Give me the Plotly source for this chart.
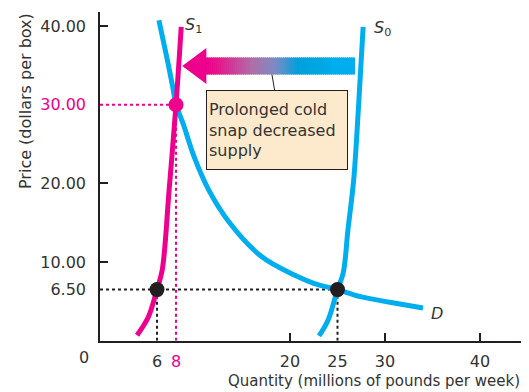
import plotly.graph_objects as go

# ---- data ----
D_q = [6.2, 6.95, 7.65, 8.0, 8.75, 9.9, 11.45, 13.7, 17.0, 20.45, 22.5, 25.0, 27.4, 30.5, 34.0]
D_p = [40.75, 36.5, 32.3, 30.0, 27.6, 23.4, 19.15, 14.9, 10.7, 8.35, 7.3, 6.5, 5.6, 4.9, 4.15]

S0_q = [23.05, 24.0, 25.0, 25.6, 26.1, 26.7, 27.2, 27.7]
S0_p = [0.6, 2.6, 6.5, 8.6, 14.1, 20.4, 29.5, 39.9]

S1_q = [3.9, 5.1, 6.0, 6.55, 7.27, 8.0, 8.55]
S1_p = [0.7, 3.05, 6.5, 9.0, 19.1, 30.0, 39.9]

eq_old = (25, 6.5)     # original equilibrium
eq_new = (8, 30)       # new equilibrium
eq_low = (6, 6.5)      # S1 at old price

x_ticks = [6, 8, 20, 25, 30, 40]
x_ticktext = ["6", "<span style='color:#ec008c'>8</span>", "20", "25", "30", "40"]
y_ticks = [6.5, 10, 20, 30, 40]
y_ticktext = ["6.50", "10.00", "20.00", "<span style='color:#ec008c'>30.00</span>", "40.00"]
x_marks = [20, 30, 40]
y_marks = [10, 20, 40]

# arrow (shift of supply)
arrow_tail, arrow_base, arrow_tip = 26.84, 11.05, 8.66
arrow_y = 34.93
shaft_half, head_half = 1.08, 2.28

BLUE = "#00aeef"
PINK = "#ec008c"
DARK = "#231f20"
TXT = "#333333"
FONT = "DejaVu Sans"

# page body has an 8px margin: figure is placed at (8, 8) in the window
W, H = 521, 384
OFF = 8


def px(X):
    return (X - OFF) / W


def py(Y):
    return 1 - (Y - OFF) / H


fig = go.Figure()

dot = dict(width=2, dash="dot")
fig.add_trace(go.Scatter(x=[0, eq_old[0]], y=[eq_old[1], eq_old[1]], mode="lines", line=dict(color=DARK, **dot)))
fig.add_trace(go.Scatter(x=[eq_low[0], eq_low[0]], y=[0, eq_low[1]], mode="lines", line=dict(color=DARK, **dot)))
fig.add_trace(go.Scatter(x=[eq_old[0], eq_old[0]], y=[0, eq_old[1]], mode="lines", line=dict(color=DARK, **dot)))
fig.add_trace(go.Scatter(x=[0, eq_new[0]], y=[eq_new[1], eq_new[1]], mode="lines", line=dict(color=PINK, **dot)))
fig.add_trace(go.Scatter(x=[eq_new[0], eq_new[0]], y=[0, eq_new[1]], mode="lines", line=dict(color=PINK, **dot)))

# curves
fig.add_trace(go.Scatter(x=D_q, y=D_p, mode="lines", line=dict(color=BLUE, width=5, shape="spline", smoothing=1)))
fig.add_trace(go.Scatter(x=S0_q, y=S0_p, mode="lines", line=dict(color=BLUE, width=5, shape="spline", smoothing=1)))
fig.add_trace(go.Scatter(x=S1_q, y=S1_p, mode="lines", line=dict(color=PINK, width=5, shape="spline", smoothing=1)))

# equilibrium points
fig.add_trace(go.Scatter(x=[eq_low[0], eq_old[0]], y=[eq_low[1], eq_old[1]], mode="markers",
                         marker=dict(color=DARK, size=15)))
fig.add_trace(go.Scatter(x=[eq_new[0]], y=[eq_new[1]], mode="markers", marker=dict(color=PINK, size=15)))

# dummy trace for tick-mark overlay axes
fig.add_trace(go.Scatter(x=[None], y=[None], xaxis="x2", yaxis="y2", mode="markers"))

# gradient arrow
stops = [(0.0, (236, 0, 140)), (0.07, (232, 16, 140)), (0.31, (176, 110, 166)),
         (0.47, (122, 140, 198)), (0.62, (0, 160, 220)), (0.8, (0, 168, 228)), (0.85, (0, 174, 239)),
         (1.0, (0, 174, 239))]


def col_at(t):
    for (t0, c0), (t1, c1) in zip(stops[:-1], stops[1:]):
        if t0 <= t <= t1:
            f = (t - t0) / (t1 - t0) if t1 > t0 else 0
            return "rgb(%d,%d,%d)" % tuple(round(a + (b - a) * f) for a, b in zip(c0, c1))
    return "rgb(0,174,239)"


shapes = []
n = 75
for i in range(n):
    x0 = arrow_base + (arrow_tail - arrow_base) * i / n
    x1 = min(arrow_base + (arrow_tail - arrow_base) * (i + 1.6) / n, arrow_tail)
    shapes.append(dict(type="rect", xref="x", yref="y", x0=x0, x1=x1,
                       y0=arrow_y - shaft_half, y1=arrow_y + shaft_half,
                       fillcolor=col_at((i + 0.5) / n), line=dict(width=0), layer="above"))
shapes.append(dict(type="path", xref="x", yref="y",
                   path="M %f,%f L %f,%f L %f,%f Z" % (arrow_tip, arrow_y, arrow_base + 0.15, arrow_y + head_half,
                                                       arrow_base + 0.15, arrow_y - head_half),
                   fillcolor=PINK, line=dict(width=0), layer="above"))
# callout connector
shapes.append(dict(type="line", xref="x", yref="y", x0=18.1, y0=arrow_y - shaft_half, x1=18.5, y1=31.0,
                   line=dict(color=DARK, width=1), layer="above"))

annotations = [
    dict(x=18.6, y=26.8, xref="x", yref="y", text="Prolonged cold<br>snap decreased<br>supply",
         showarrow=False, align="left", xanchor="center", yanchor="middle",
         bgcolor="#fdeacd", bordercolor=DARK, borderwidth=1, borderpad=2, width=136, height=74,
         font=dict(family=FONT, size=16, color=TXT)),
    dict(x=8.7, y=40.1, xref="x", yref="y", text="<i>S</i><sub>1</sub>", showarrow=False,
         xanchor="left", yanchor="middle", font=dict(family=FONT, size=16, color=TXT)),
    dict(x=28.6, y=39.7, xref="x", yref="y", text="<i>S</i><sub>0</sub>", showarrow=False,
         xanchor="left", yanchor="middle", font=dict(family=FONT, size=16, color=TXT)),
    dict(x=34.6, y=3.5, xref="x", yref="y", text="<i>D</i>", showarrow=False,
         xanchor="left", yanchor="middle", font=dict(family=FONT, size=16, color=TXT)),
    dict(x=px(84), y=py(357), xref="paper", yref="paper", text="0", showarrow=False,
         xanchor="center", yanchor="middle", font=dict(family=FONT, size=16, color=TXT)),
    dict(x=px(522), y=py(381), xref="paper", yref="paper",
         text="Quantity (millions of pounds per week)", showarrow=False,
         xanchor="right", yanchor="middle", font=dict(family=FONT, size=15, color=TXT)),
    dict(x=px(25), y=py(101), xref="paper", yref="paper",
         text="Price (dollars per box)", showarrow=False, textangle=-90,
         xanchor="center", yanchor="middle", font=dict(family=FONT, size=16, color=TXT)),
]

xdom = [px(100), px(527.5)]
ydom = [py(340.7), py(12)]
xr = [0, 45]
yr = [0, 41.8]

fig.update_layout(
    width=W, height=H,
    margin=dict(l=0, r=0, t=0, b=0, autoexpand=False),
    paper_bgcolor="white", plot_bgcolor="white",
    showlegend=False,
    shapes=shapes, annotations=annotations,
    xaxis=dict(domain=xdom, range=xr, tickmode="array", tickvals=x_ticks, ticktext=x_ticktext,
               ticks="", showgrid=False, zeroline=False, showline=True, linecolor=DARK, linewidth=1.5,
               tickfont=dict(family=FONT, size=16, color=TXT), ticklabelstandoff=5, fixedrange=True),
    yaxis=dict(domain=ydom, range=yr, tickmode="array", tickvals=y_ticks, ticktext=y_ticktext,
               ticks="", showgrid=False, zeroline=False, showline=True, linecolor=DARK, linewidth=1.5,
               tickfont=dict(family=FONT, size=16, color=TXT), ticklabelstandoff=9, fixedrange=True),
    xaxis2=dict(overlaying="x", anchor="y", domain=xdom, range=xr, tickmode="array", tickvals=x_marks,
                ticks="inside", ticklen=8, tickwidth=1.5, tickcolor=DARK, showticklabels=False,
                showgrid=False, zeroline=False, showline=False),
    yaxis2=dict(overlaying="y", anchor="x", side="left", domain=ydom, range=yr, tickmode="array",
                tickvals=y_marks, ticks="inside", ticklen=8, tickwidth=1.5, tickcolor=DARK,
                showticklabels=False, showgrid=False, zeroline=False, showline=False),
)

fig.write_html("out.html")
